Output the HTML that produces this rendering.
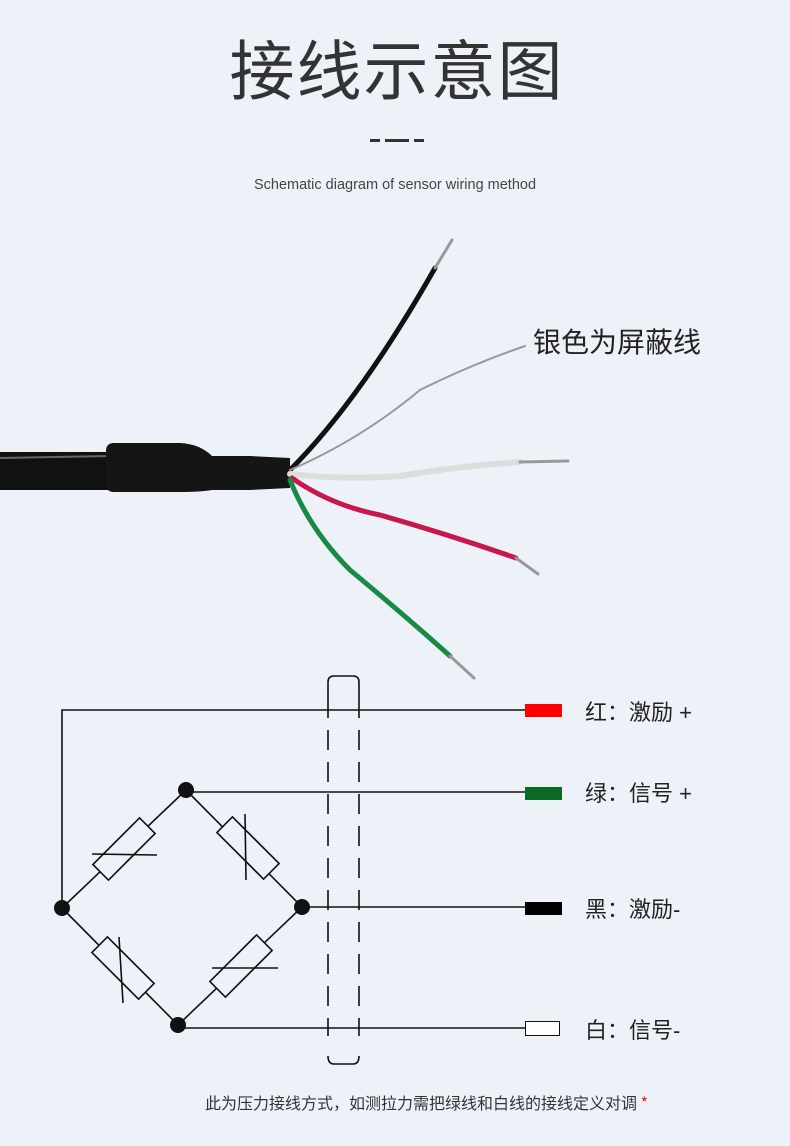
<!DOCTYPE html>
<html><head><meta charset="utf-8"><style>
html,body{margin:0;padding:0;}
body{width:790px;height:1146px;background:#edf2f9;overflow:hidden;font-family:"Liberation Sans","Noto Sans CJK SC",sans-serif;}
</style></head><body>
<svg width="790" height="1146" viewBox="0 0 790 1146" xmlns="http://www.w3.org/2000/svg" style="display:block">
<text x="397" y="94" text-anchor="middle" font-size="65" fill="#333" font-family="Noto Sans CJK SC, sans-serif" letter-spacing="2">接线示意图</text>
<rect x="370" y="139" width="10" height="3" fill="#333"/><rect x="385" y="139" width="24" height="3" fill="#333"/><rect x="414" y="139" width="10" height="3" fill="#333"/>
<text x="395" y="189" text-anchor="middle" font-size="14.5" fill="#444">Schematic diagram of sensor wiring method</text>
<!-- cable -->
<rect x="0" y="452" width="130" height="38" fill="#111"/>
<path d="M0 458 L110 456" stroke="#666" stroke-width="2"/>
<path d="M114 443 L180 443 Q200 444 212 456 L250 456 L290 458 L290 488 L250 490 L212 490 Q200 492 180 492 L114 492 Q106 492 106 484 L106 451 Q106 443 114 443 Z" fill="#151515"/>
<g fill="none" stroke-linecap="round">
<path d="M290 470 Q360 400 435 268" stroke="#111" stroke-width="5"/>
<path d="M435 268 L452 240" stroke="#999" stroke-width="3"/>
<path d="M290 470 Q360 440 420 390 Q470 365 525 346" stroke="#999" stroke-width="2"/>
<path d="M290 474 Q340 480 400 476 Q460 466 520 462" stroke="#ddd" stroke-width="6"/>
<path d="M520 462 L568 461" stroke="#999" stroke-width="3"/>
<path d="M292 478 Q330 505 380 515 Q450 535 516 558" stroke="#c8174a" stroke-width="5"/>
<path d="M516 558 L538 574" stroke="#999" stroke-width="3"/>
<path d="M290 480 Q310 530 350 570 Q410 620 450 656" stroke="#188a45" stroke-width="5"/>
<path d="M450 656 L474 678" stroke="#999" stroke-width="3"/>
</g>
<text x="533" y="352" font-size="28" fill="#222" font-family="Noto Sans CJK SC, sans-serif">银色为屏蔽线</text>
<!-- schematic -->
<g stroke="#111" stroke-width="1.6" fill="none">
<path d="M62 908 L62 710 L525 710"/>
<path d="M186 792 L525 792"/>
<path d="M302 907 L525 907"/>
<path d="M178 1028 L525 1028"/>
<path d="M62 908 L186 790 L302 907 L178 1025 Z"/>
</g>
<g stroke="#111" stroke-width="1.6" fill="#edf2f9">
<rect x="-33" y="-11" width="66" height="22" transform="translate(124 849) rotate(-45)"/>
<rect x="-33" y="-11" width="66" height="22" transform="translate(248 848) rotate(45)"/>
<rect x="-33" y="-11" width="66" height="22" transform="translate(123 968) rotate(45)"/>
<rect x="-33" y="-11" width="66" height="22" transform="translate(241 966) rotate(-45)"/>
</g>
<g stroke="#111" stroke-width="1.6">
<line x1="92" y1="854" x2="157" y2="855"/>
<line x1="245" y1="814" x2="246" y2="880"/>
<line x1="119" y1="937" x2="123" y2="1003"/>
<line x1="212" y1="968" x2="278" y2="968"/>
</g>
<g fill="#111"><circle cx="186" cy="790" r="8"/><circle cx="62" cy="908" r="8"/><circle cx="302" cy="907" r="8"/><circle cx="178" cy="1025" r="8"/></g>
<g stroke="#111" stroke-width="1.6" fill="none">
<path d="M328 698 L328 682 Q328 676 334 676 L353 676 Q359 676 359 682 L359 698"/>
<line x1="328" y1="698" x2="328" y2="1036" stroke-dasharray="20 12"/>
<line x1="359" y1="698" x2="359" y2="1036" stroke-dasharray="20 12"/>
<path d="M328 1056 Q328 1064 334 1064 L353 1064 Q359 1064 359 1056"/>
</g>
<rect x="525" y="704" width="37" height="13" fill="#f00"/>
<rect x="525" y="787" width="37" height="13" fill="#0a6a25"/>
<rect x="525" y="902" width="37" height="13" fill="#000"/>
<rect x="525.5" y="1021.5" width="34" height="14" fill="#fff" stroke="#111"/>
<g font-size="22" fill="#222" font-family="Liberation Sans, Noto Sans CJK SC, sans-serif">
<text x="585" y="720">红：激励 +</text>
<text x="585" y="801">绿：信号 +</text>
<text x="585" y="917">黑：激励-</text>
<text x="585" y="1038">白：信号-</text>
</g>
<text x="205" y="1109" font-size="16" fill="#333" font-family="Noto Sans CJK SC, sans-serif">此为压力接线方式，如测拉力需把绿线和白线的接线定义对调 <tspan fill="#e02020">*</tspan></text>
</svg>
</body></html>
